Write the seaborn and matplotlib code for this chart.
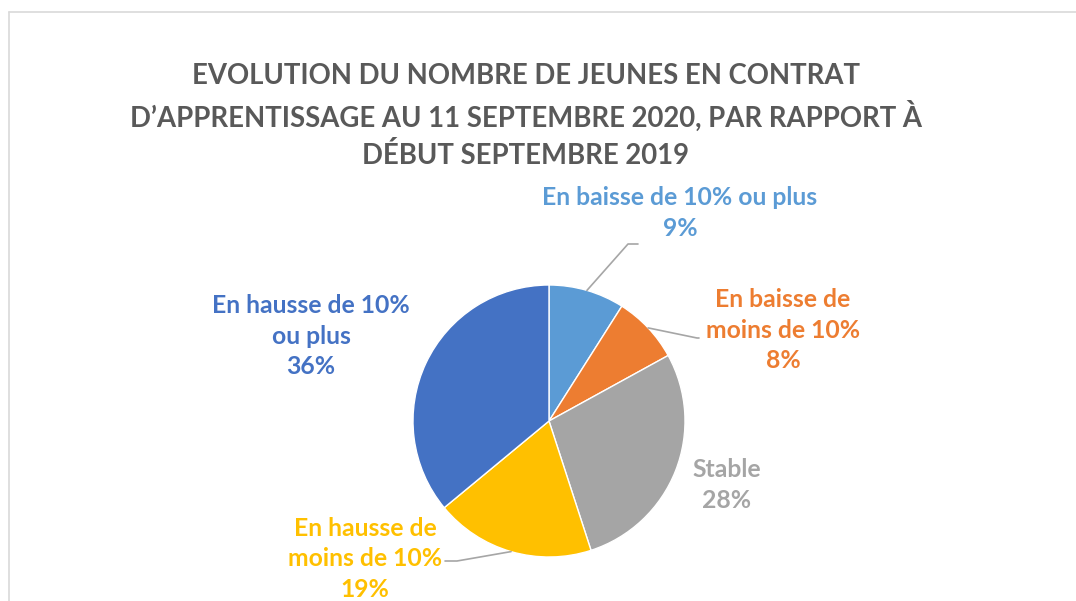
# camembert : evolution des contrats d'apprentissage
import numpy as np
import matplotlib.pyplot as plt
import seaborn as sns
from matplotlib.lines import Line2D

# donnees
categories = ['En baisse de 10% ou plus', 'En baisse de\nmoins de 10%', 'Stable',
              'En hausse de\nmoins de 10%', 'En hausse de 10%\nou plus']
parts = [9, 8, 28, 19, 36]
couleurs = ['#5B9BD5', '#ED7D31', '#A5A5A5', '#FFC000', '#4472C4']
titre = ("EVOLUTION DU NOMBRE DE JEUNES EN CONTRAT\n"
         "D\u2019APPRENTISSAGE AU 11 SEPTEMBRE 2020, PAR RAPPORT \u00c0\n"
         "D\u00c9BUT SEPTEMBRE 2019")

sns.set_theme(style='white')
plt.rcParams['font.family'] = ['Lato', 'DejaVu Sans']

W, H = 1076, 601
fig = plt.figure(figsize=(W / 100, H / 100), dpi=100)
ax = fig.add_axes([0, 0, 1, 1])
ax.set_xlim(0, W)
ax.set_ylim(0, H)
ax.set_aspect('equal')
ax.axis('off')

def py(y):
    # coordonnee en pixels depuis le haut
    return H - y

# cadre gris clair
ax.add_line(Line2D([9, W], [py(12), py(12)], color='#D9D9D9', lw=1.2))
ax.add_line(Line2D([9, 9], [py(12), 0], color='#D9D9D9', lw=1.2))

# le camembert
cx, cy, r = 549, py(421), 136
wedges, _ = ax.pie(parts, colors=couleurs, startangle=90, counterclock=False,
                   center=(cx, cy), radius=r,
                   wedgeprops=dict(edgecolor='white', linewidth=1))
ax.set_xlim(0, W)
ax.set_ylim(0, H)

# titre
ax.text(526, py(116), titre, ha='center', va='center', fontsize=19.8,
        fontweight='bold', color='#595959', linespacing=1.45)

# etiquettes
pos_labels = [(680, 213), (783, 330), (727, 485), (365, 559), (311, 336)]
for i, (cat, p) in enumerate(zip(categories, parts)):
    x, y = pos_labels[i]
    ax.text(x, py(y), f'{cat}\n{p}%', ha='center', va='center', fontsize=17.8,
            fontweight='bold', color=couleurs[i], linespacing=1.42)

# lignes de rappel (depart au milieu de la part)
coudes = {0: [(628, 244), (638, 244)], 1: [(697, 338), (699, 338)],
          3: [(457, 561), (445, 561)]}
for i, pts in coudes.items():
    w = wedges[i]
    a = np.deg2rad((w.theta1 + w.theta2) / 2)
    xs = [cx + r * np.cos(a)] + [p[0] for p in pts]
    ys = [cy + r * np.sin(a)] + [py(p[1]) for p in pts]
    ax.add_line(Line2D(xs, ys, color='#A6A6A6', lw=1.2))

plt.savefig('out.png', dpi=100)
